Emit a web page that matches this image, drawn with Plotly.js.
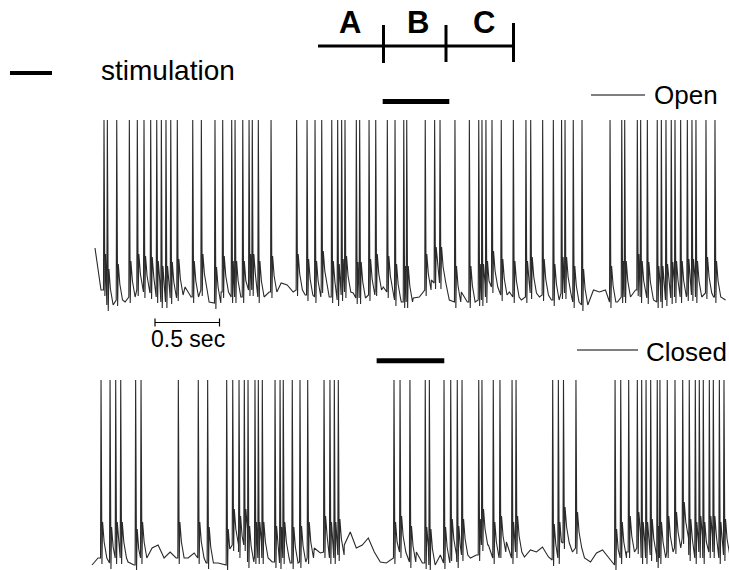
<!DOCTYPE html>
<html>
<head>
<meta charset="utf-8">
<script src="https://cdn.plot.ly/plotly-3.0.1.min.js"></script>
<style>
  html, body { margin: 0; padding: 0; background: #fff; }
  #chart { width: 729px; height: 570px; }
</style>
</head>
<body>
<div id="chart"></div>
<script>
// Spike times (s) for the two recordings
const openSpikes = [
  0.070, 0.096, 0.169, 0.267, 0.329, 0.381, 0.433, 0.480, 0.516, 0.552,
  0.589, 0.640, 0.760, 0.827, 0.933, 0.993, 1.063, 1.089, 1.149, 1.198,
  1.223, 1.270, 1.369, 1.568, 1.649, 1.711, 1.763, 1.841, 1.887, 1.918,
  1.944, 2.032, 2.058, 2.131, 2.183, 2.273, 2.333, 2.401, 2.424, 2.568,
  2.641, 2.683, 2.799, 2.911, 2.984, 3.009, 3.040, 3.087, 3.159, 3.253,
  3.351, 3.388, 3.481, 3.564, 3.628, 3.655, 3.719, 3.787, 4.005, 4.096,
  4.119, 4.217, 4.243, 4.295, 4.372, 4.404, 4.440, 4.481, 4.510, 4.554,
  4.606, 4.642, 4.673, 4.751, 4.821
];
const closedSpikes = [
  0.047, 0.117, 0.161, 0.200, 0.316, 0.358, 0.648, 0.803, 0.876, 1.024,
  1.071, 1.120, 1.161, 1.190, 1.244, 1.270, 1.301, 1.400, 1.439, 1.464,
  1.534, 1.594, 1.654, 1.781, 1.827, 1.861, 1.892, 2.325, 2.372, 2.449,
  2.568, 2.600, 2.714, 2.766, 2.817, 2.854, 2.984, 3.009, 3.097, 3.149,
  3.243, 3.274, 3.559, 3.603, 3.643, 3.740, 4.044, 4.088, 4.150, 4.217,
  4.251, 4.285, 4.321, 4.372, 4.393, 4.450, 4.510, 4.570, 4.621, 4.668,
  4.699, 4.730, 4.777, 4.808, 4.855, 4.891
];

// Membrane potential between spikes (mV), sampled every SAMPLE_STEP s
const SAMPLE_STEP = 0.0467;
const openStart = 0.0;
const closedStart = -0.023;
const openBaseline = [
  -34, -55, -62.5, -62.5, -60, -61, -58.5, -55, -56, -56.5,
  -58.5, -61, -61, -59, -57.5, -53.5, -58.5, -56, -55, -61,
  -61.5, -56, -58.5, -58.5, -61, -58.5, -55, -58.5, -54, -56,
  -52.5, -51.5, -52.5, -56, -55, -57.5, -61, -58.5, -53.5, -58.5,
  -60, -57.5, -56, -56.5, -59, -51.5, -57.5, -55, -53.5, -56,
  -60, -61, -61, -59, -58.5, -55, -50, -51.5, -57.5, -60,
  -61, -56, -61, -61.5, -60, -58.5, -53.5, -56, -57.5, -56,
  -58.5, -60, -58.5, -56.5, -58.5, -57.5, -60, -58.5, -56.5, -58.5,
  -61, -62.5, -52.5, -55, -56, -55, -61, -61, -58.5, -56,
  -55, -58.5, -59, -60, -61, -60, -59, -58.5, -58.5, -57.5,
  -58.5, -57.5, -56.5, -58.5, -57.5, -60
];
const closedBaseline = [
  -61.5, -58, -60, -60.5, -58, -58, -60, -61.5, -58, -55,
  -53, -51.5, -58, -55, -58, -53, -58, -55.5, -58, -60.5,
  -60, -60.5, -61.5, -51.5, -55, -51.5, -60, -58, -58, -55,
  -60, -60.5, -58, -60.5, -56.5, -60, -58, -53, -55.5, -55,
  -58, -56.5, -51.5, -45, -53, -51.5, -48, -55, -60, -60.5,
  -58, -55, -60, -60, -55, -60.5, -61.5, -56.5, -56.5, -60.5,
  -56.5, -60, -56.5, -58, -56.5, -51.5, -51.5, -58, -55, -50,
  -58, -55, -57.5, -54, -55, -52.5, -57.5, -59, -58, -50.5,
  -55, -53, -58, -60, -55.5, -54, -58, -61.5, -58, -55,
  -56.5, -53, -58, -56.5, -60, -58, -55, -53, -48, -56.5,
  -58, -55, -58, -55, -58, -56.5, -58
];
const openPeak = 30;   // mV, spike overshoot
const closedPeak = 31;

// Stimulation periods (s)
const openStim = [2.237, 2.755];
const closedStim = [2.190, 2.716];

// Waveform of one action potential, relative to the local resting level:
// [time offset (s), mV above rest]; null marks the peak.
const SPIKE_SHAPE = [[-0.004, 0], [0, null], [0.007, -3], [0.012, 18], [0.024, 8], [0.045, 0]];

function buildTrace(start, baseline, spikes, peak) {
  const pts = [];
  const restAt = t => baseline[Math.max(0, Math.min(baseline.length - 1, Math.round((t - start) / SAMPLE_STEP)))];
  baseline.forEach((v, i) => {
    const t = start + i * SAMPLE_STEP;
    const covered = spikes.some(s => t > s - 0.005 && t < s + 0.045);
    if (!covered) pts.push([t, v]);
  });
  spikes.forEach((s, k) => {
    const next = k + 1 < spikes.length ? spikes[k + 1] : Infinity;
    const rest = restAt(s);
    SPIKE_SHAPE.forEach(([dt, dv]) => {
      const t = s + dt;
      if (dt > 0 && t >= next - 0.004) return;
      pts.push([t, dv === null ? peak : rest + dv]);
    });
  });
  pts.sort((a, b) => a[0] - b[0]);
  return { x: pts.map(p => p[0]), y: pts.map(p => p[1]) };
}

const W = 729, H = 570;
const px = x => x / W;            // pixel column -> paper x
const py = y => 1 - y / H;        // pixel row -> paper y

const openTrace = buildTrace(openStart, openBaseline, openSpikes, openPeak);
const closedTrace = buildTrace(closedStart, closedBaseline, closedSpikes, closedPeak);

const traceLine = { color: '#2a2a2a', width: 1.1 };
const traces = [
  { x: openTrace.x, y: openTrace.y, type: 'scatter', mode: 'lines',
    line: traceLine, yaxis: 'y', hoverinfo: 'skip', name: 'Open' },
  { x: closedTrace.x, y: closedTrace.y, type: 'scatter', mode: 'lines',
    line: traceLine, yaxis: 'y2', hoverinfo: 'skip', name: 'Closed' },
  // stimulation bars
  { x: openStim, y: [39.2, 39.2], type: 'scatter', mode: 'lines',
    line: { color: '#000', width: 5 }, yaxis: 'y', hoverinfo: 'skip' },
  { x: closedStim, y: [40.6, 40.6], type: 'scatter', mode: 'lines',
    line: { color: '#000', width: 5 }, yaxis: 'y2', hoverinfo: 'skip' }
];

const font = 'Liberation Sans, Arial, Helvetica, sans-serif';
const shapes = [];
const line = (x0, y0, x1, y1, w) => shapes.push({
  type: 'line', xref: 'paper', yref: 'paper',
  x0: px(x0), y0: py(y0), x1: px(x1), y1: py(y1),
  line: { color: '#000', width: w }
});
// legend key for stimulation
line(10, 73, 52, 73, 4);
// A / B / C period bracket
line(318, 46, 513, 46, 3);
line(383.5, 25, 383.5, 63, 3);
line(446, 25, 446, 62, 3);
line(513.5, 23, 513.5, 62, 3);
// trace labels
line(591, 95, 645, 95, 1);
line(577, 350, 638, 350, 1);
// time scale bar
line(155, 322.5, 219.5, 322.5, 1.2);
line(155, 318.5, 155, 326.5, 1.2);
line(219.5, 318.5, 219.5, 326.5, 1.2);

const ann = (text, x, y, size, anchor, bold) => ({
  text: bold ? '<b>' + text + '</b>' : text,
  xref: 'paper', yref: 'paper', x: px(x), y: py(y),
  xanchor: anchor, yanchor: 'middle', showarrow: false,
  font: { family: font, size: size, color: '#000' }
});

const layout = {
  width: W, height: H,
  margin: { l: 0, r: 0, t: 0, b: 0 },
  paper_bgcolor: '#fff', plot_bgcolor: '#fff',
  showlegend: false,
  xaxis: { range: [-95 / 128.6, 634 / 128.6], visible: false, fixedrange: true },
  yaxis: { range: [-195, 90], visible: false, domain: [0, 1], fixedrange: true },
  yaxis2: { range: [-64, 221], visible: false, overlaying: 'y', fixedrange: true },
  shapes: shapes,
  annotations: [
    ann('stimulation', 99, 71, 28, 'left', false),
    ann('A', 350, 22, 31, 'center', true),
    ann('B', 418, 22, 31, 'center', true),
    ann('C', 484, 22, 31, 'center', true),
    ann('Open', 652, 95, 26, 'left', false),
    ann('Closed', 644, 352, 26, 'left', false),
    ann('0.5 sec', 188, 339, 23, 'center', false)
  ]
};

Plotly.newPlot('chart', traces, layout, { staticPlot: true, displayModeBar: false });
</script>
</body>
</html>
